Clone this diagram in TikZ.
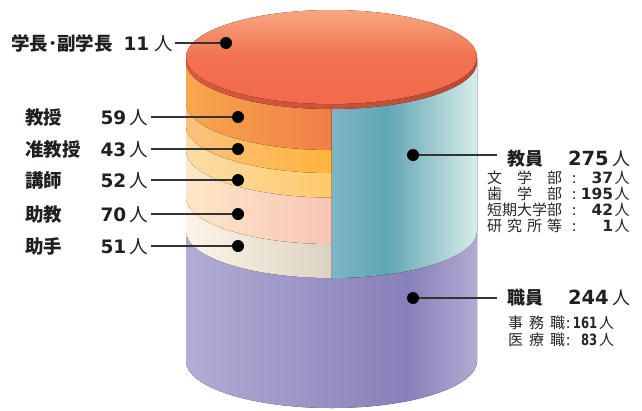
\documentclass[tikz,border=0pt]{standalone}
\usepackage{fontspec}
\usepackage{graphicx}
\newfontfamily\jp{Noto Sans CJK JP}
\newfontfamily\numf{DejaVu Sans}
\definecolor{txt}{HTML}{231F20}
\definecolor{subc}{HTML}{262626}
\definecolor{lin}{HTML}{333333}
\definecolor{pua}{HTML}{B3ACD4}
\definecolor{pub}{HTML}{8780BA}
\definecolor{puc}{HTML}{B2ABD4}
\definecolor{tea}{HTML}{7CB7C3}
\definecolor{teb}{HTML}{62A5B4}
\definecolor{tec}{HTML}{D6EEE8}
\definecolor{l5a}{HTML}{FDF4E7}\definecolor{l5b}{HTML}{DCD2C4}
\definecolor{l4a}{HTML}{FDE8C8}\definecolor{l4b}{HTML}{F8C4B4}
\definecolor{l3a}{HTML}{FDDDA6}\definecolor{l3b}{HTML}{FEC96A}
\definecolor{l2a}{HTML}{FBC27E}\definecolor{l2b}{HTML}{FDB43A}
\definecolor{l1a}{HTML}{F8A74C}\definecolor{l1b}{HTML}{F07E48}
\definecolor{rima}{HTML}{D85A3E}\definecolor{rimb}{HTML}{B94A34}
\definecolor{topa}{HTML}{F7A780}\definecolor{topb}{HTML}{F2714F}\definecolor{topc}{HTML}{F26A4E}
\pgfdeclarehorizontalshading{purpsh}{100bp}{color(0bp)=(pua); color(25bp)=(pua); color(63bp)=(pub); color(75bp)=(puc); color(100bp)=(puc)}
\pgfdeclarehorizontalshading{tealsh}{100bp}{color(0bp)=(tea); color(25bp)=(tea); color(44bp)=(teb); color(75bp)=(tec); color(100bp)=(tec)}
\newcommand\bnum[2]{{\numf\bfseries\fontsize{#1}{#1}\selectfont #2}}
\newcommand\nin[1]{{\jp\mdseries\fontsize{#1}{#1}\selectfont 人}}
\newcommand\mysubtop[2]{\makebox[75pt][l]{#1}\makebox[14pt][r]{:}\makebox[37pt][r]{\bnum{15.5}{#2}}\hspace{1.5pt}人}
\newcommand\mysubbot[2]{\makebox[57pt][l]{#1}\makebox[6pt][c]{:}\makebox[26pt][r]{\scalebox{0.75}[1]{\bnum{15.5}{#2}}}\hspace{2pt}人}
\tikzset{
  lab/.style={font=\jp\bfseries\fontsize{18.5}{20}\selectfont, text=txt, inner sep=0pt, anchor=base west},
  cnt/.style={inner sep=0pt, anchor=base east, text=txt},
  dotn/.style={circle, fill=black, minimum size=12pt, inner sep=0pt},
  conn/.style={draw=lin, line width=1.3pt},
  subl/.style={font=\jp\fontsize{15}{16}\selectfont, text=subc, inner sep=0pt, anchor=base west},
}
\begin{document}
\begin{tikzpicture}[x=1pt,y=-1pt]
\useasboundingbox (0,0) rectangle (642,410);
\def\L{186}\def\R{477}\def\C{331.5}\def\A{145.5}\def\B{47}
% purple body
\fill[shading=purpsh] (\L,57) -- (\L,361) arc[start angle=180,end angle=0,x radius=\A,y radius=\B] -- (\R,57) -- cycle;
% teal
\fill[shading=tealsh] (\C,57) -- (\C,278) arc[start angle=90,end angle=0,x radius=\A,y radius=\B] -- (\R,57) -- cycle;
% left layers, bottom first
\fill[left color=l5a, right color=l5b] (\L,57) -- (\L,231) arc[start angle=180,end angle=90,x radius=\A,y radius=\B] -- (\C,57) -- cycle;
\fill[left color=l4a, right color=l4b] (\L,57) -- (\L,197) arc[start angle=180,end angle=90,x radius=\A,y radius=\B] -- (\C,57) -- cycle;
\fill[left color=l3a, right color=l3b] (\L,57) -- (\L,150.5) arc[start angle=180,end angle=90,x radius=\A,y radius=\B] -- (\C,57) -- cycle;
\fill[left color=l2a, right color=l2b] (\L,57) -- (\L,126) arc[start angle=180,end angle=90,x radius=\A,y radius=\B] -- (\C,57) -- cycle;
\fill[left color=l1a, right color=l1b] (\L,57) -- (\L,103) arc[start angle=180,end angle=90,x radius=\A,y radius=\B] -- (\C,57) -- cycle;
% top disk
\fill[left color=rima, right color=rimb] (\C,62) ellipse[x radius=\A,y radius=\B];
\fill[top color=topa, bottom color=topc, middle color=topb] (\C,57) ellipse[x radius=\A,y radius=\B];
% left labels
\node[lab] (t1) at (11,50) {学長･副学長};
\node[cnt] (n1) at (173,50) {\bnum{18.5}{11}\hspace{5pt}\nin{18.5}};
\node[lab] (t2) at (25,124) {教授};
\node[cnt] (n2) at (148,124) {\bnum{18.5}{59}\hspace{3pt}\nin{18.5}};
\node[lab] (t3) at (25,156) {准教授};
\node[cnt] (n3) at (148,156) {\bnum{18.5}{43}\hspace{3pt}\nin{18.5}};
\node[lab] (t4) at (25,187) {講師};
\node[cnt] (n4) at (148,187) {\bnum{18.5}{52}\hspace{3pt}\nin{18.5}};
\node[lab] (t5) at (25,221) {助教};
\node[cnt] (n5) at (148,221) {\bnum{18.5}{70}\hspace{3pt}\nin{18.5}};
\node[lab] (t6) at (25,253) {助手};
\node[cnt] (n6) at (148,253) {\bnum{18.5}{51}\hspace{3pt}\nin{18.5}};
% dots
\node[dotn] (d1) at (226,43) {};
\node[dotn] (d2) at (238,117) {};
\node[dotn] (d3) at (238,149) {};
\node[dotn] (d4) at (238,180) {};
\node[dotn] (d5) at (238,214) {};
\node[dotn] (d6) at (238,246) {};
\node[dotn] (d7) at (413,155) {};
\node[dotn] (d8) at (413,298) {};
\coordinate (s1) at (175,43);
\coordinate (s2) at (151,117);
\coordinate (s3) at (151,149);
\coordinate (s4) at (151,180);
\coordinate (s5) at (151,214);
\coordinate (s6) at (151,246);
\coordinate (s7) at (497,155);
\coordinate (s8) at (497,298);
\foreach \i in {1,...,8} \draw[conn] (s\i) -- (d\i);
% right labels
\node[lab, font=\jp\bfseries\fontsize{18}{20}\selectfont] (t7) at (507,165) {教員};
\node[cnt] (n7) at (631,165) {\bnum{19.5}{275}\hspace{4pt}\nin{18}};
\node[subl] (r1) at (487,183.7) {\mysubtop{文\hfill 学\hfill 部}{37}};
\node[subl] (r2) at (487,199.7) {\mysubtop{歯\hfill 学\hfill 部}{195}};
\node[subl] (r3) at (487,215.7) {\mysubtop{短期大学部}{42}};
\node[subl] (r4) at (487,231.2) {\mysubtop{研\hfill 究\hfill 所\hfill 等}{1}};
\node[lab, font=\jp\bfseries\fontsize{18}{20}\selectfont] (t8) at (507,304) {職員};
\node[cnt] (n8) at (631,304) {\bnum{19.5}{244}\hspace{4pt}\nin{18}};
\node[subl] (r5) at (508,328.2) {\mysubbot{事\hfill 務\hfill 職}{161}};
\node[subl] (r6) at (508,345.7) {\mysubbot{医\hfill 療\hfill 職}{83}};
\end{tikzpicture}
\end{document}
